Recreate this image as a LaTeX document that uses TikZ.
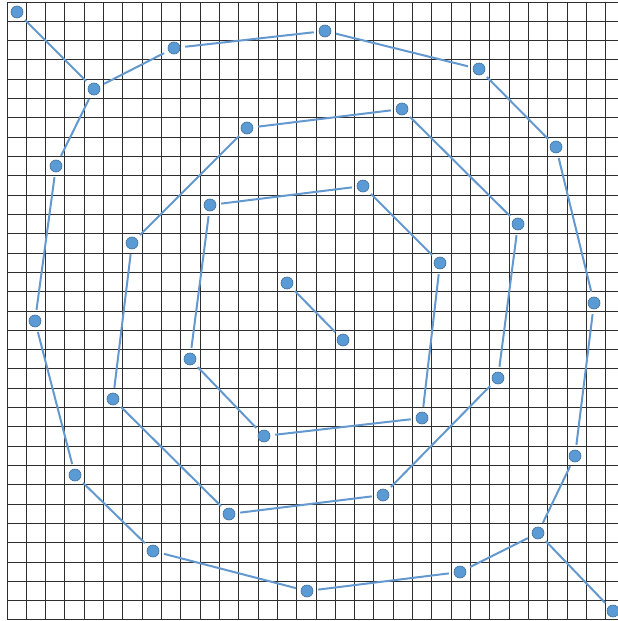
\documentclass[tikz,border=0pt]{standalone}
\definecolor{linkblue}{HTML}{6499D0}
\definecolor{dotfill}{HTML}{5B9BD5}
\definecolor{dotedge}{HTML}{41719C}
\tikzset{
  gridline/.style={draw=black!82, line width=0.9pt},
  dot/.style={circle, fill=dotfill, draw=dotedge, line width=0.6pt, minimum size=12pt, inner sep=0pt},
  link/.style={draw=linkblue, line width=2pt, shorten >=5pt, shorten <=5pt}
}
\begin{document}
\begin{tikzpicture}[x=1pt, y=-1pt]
\useasboundingbox (0,0) rectangle (618,621);
\clip (0,0) rectangle (618,621);
\fill[white] (0,0) rectangle (618,621);
% grid
\foreach \k in {0,...,31} {
  \draw[gridline] ({7+\k*19.31},2) -- ({7+\k*19.31},620);
}
\foreach \k in {0,...,32} {
  \draw[gridline] (7,{2+\k*19.31}) -- (618,{2+\k*19.31});
}
% dots
\node[dot] (o0) at (17,12) {};
\node[dot] (a1) at (94,89) {};
\node[dot] (a2) at (174,48) {};
\node[dot] (a3) at (325,31) {};
\node[dot] (a4) at (479,69) {};
\node[dot] (a5) at (556,147) {};
\node[dot] (a6) at (594,303) {};
\node[dot] (a7) at (575,456) {};
\node[dot] (a8) at (538,533) {};
\node[dot] (o9) at (613,611) {};
\node[dot] (a9) at (460,572) {};
\node[dot] (a10) at (307,591) {};
\node[dot] (a11) at (153,551) {};
\node[dot] (a12) at (75,475) {};
\node[dot] (a13) at (35,321) {};
\node[dot] (a14) at (56,166) {};
\node[dot] (b1) at (247,128) {};
\node[dot] (b2) at (402,109) {};
\node[dot] (b3) at (518,224) {};
\node[dot] (b4) at (498,378) {};
\node[dot] (b5) at (383,495) {};
\node[dot] (b6) at (229,514) {};
\node[dot] (b7) at (113,399) {};
\node[dot] (b8) at (132,243) {};
\node[dot] (c1) at (210,205) {};
\node[dot] (c2) at (363,186) {};
\node[dot] (c3) at (440,263) {};
\node[dot] (c4) at (422,418) {};
\node[dot] (c5) at (264,436) {};
\node[dot] (c6) at (190,359) {};
\node[dot] (d1) at (287,283) {};
\node[dot] (d2) at (343,340) {};
% links
\draw[link] (o0) -- (a1);
\draw[link] (a1) -- (a2);
\draw[link] (a2) -- (a3);
\draw[link] (a3) -- (a4);
\draw[link] (a4) -- (a5);
\draw[link] (a5) -- (a6);
\draw[link] (a6) -- (a7);
\draw[link] (a7) -- (a8);
\draw[link] (a8) -- (o9);
\draw[link] (a8) -- (a9);
\draw[link] (a9) -- (a10);
\draw[link] (a10) -- (a11);
\draw[link] (a11) -- (a12);
\draw[link] (a12) -- (a13);
\draw[link] (a13) -- (a14);
\draw[link] (a14) -- (a1);
\draw[link] (b1) -- (b2);
\draw[link] (b2) -- (b3);
\draw[link] (b3) -- (b4);
\draw[link] (b4) -- (b5);
\draw[link] (b5) -- (b6);
\draw[link] (b6) -- (b7);
\draw[link] (b7) -- (b8);
\draw[link] (b8) -- (b1);
\draw[link] (c1) -- (c2);
\draw[link] (c2) -- (c3);
\draw[link] (c3) -- (c4);
\draw[link] (c4) -- (c5);
\draw[link] (c5) -- (c6);
\draw[link] (c6) -- (c1);
\draw[link] (d1) -- (d2);
\end{tikzpicture}
\end{document}
